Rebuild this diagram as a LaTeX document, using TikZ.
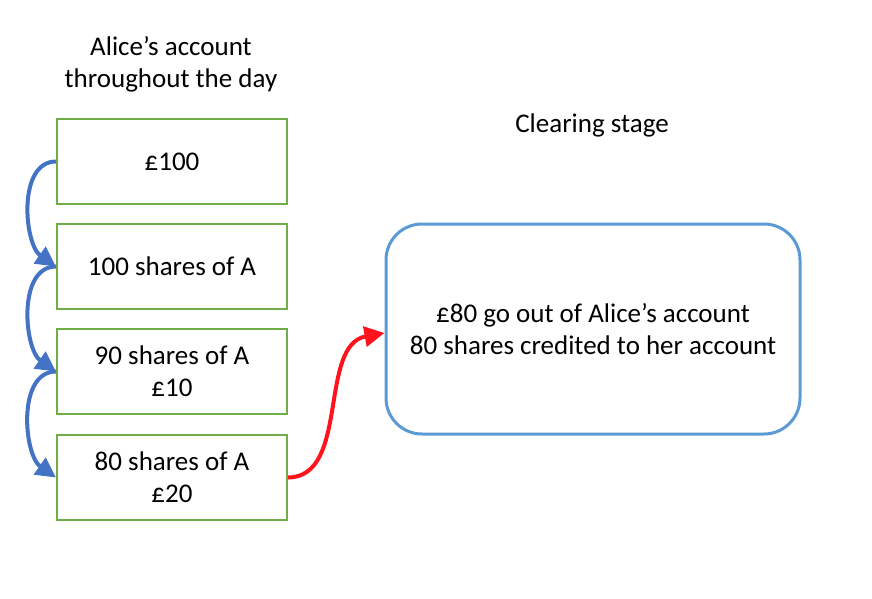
\documentclass[tikz,border=0pt]{standalone}
\usepackage{fontspec}
\setmainfont{Carlito}
\usetikzlibrary{arrows.meta}

\definecolor{acctgreen}{RGB}{112,173,71}
\definecolor{clearblue}{RGB}{91,155,213}
\definecolor{flowblue}{RGB}{68,114,196}
\definecolor{flowred}{RGB}{255,20,30}

\tikzset{
	acct/.style = {draw = acctgreen, line width = 2pt, minimum width = 230pt,
		minimum height = 85pt, inner sep = 0pt, align = center},
	clearbox/.style = {draw = clearblue, line width = 3pt, rounded corners = 36pt,
		minimum width = 414pt, minimum height = 210pt, inner sep = 0pt, align = center},
	label/.style = {align = center, inner sep = 0pt},
	flow/.style = {flowblue, line width = 4pt, -{Triangle[length = 20pt, width = 20pt]}},
	settle/.style = {flowred, line width = 4pt, -{Triangle[length = 20pt, width = 20pt]}}
}

\begin{document}
\begin{tikzpicture}[x = 1pt, y = -1pt, font = \fontsize{27}{32}\selectfont]
		\useasboundingbox (0, 0) rectangle (872, 598);
		\node [label] (title) at (171, 64) {Alice’s account\\throughout the day};
		\node [label] (stage) at (592, 125) {Clearing stage};
		\node [acct] (b1) at (172, 161.5) {£100};
		\node [acct] (b2) at (172, 266.5) {100 shares of A};
		\node [acct] (b3) at (172, 371.5) {90 shares of A\\£10};
		\node [acct] (b4) at (172, 477.5) {80 shares of A\\£20};
		\node [clearbox] (clear) at (593, 329) {£80 go out of Alice’s account\\80 shares credited to her account};
		\draw [flow] (b1.west) to [out = 180, in = 145, looseness = 0.95] (b2.west);
		\draw [flow] (b2.west) to [out = 180, in = 145, looseness = 0.95] (b3.west);
		\draw [flow] (b3.west) to [out = 180, in = 145, looseness = 0.95] (b4.west);
		\draw [settle] (b4.east) .. controls (350, 477) and (318, 345) .. ([yshift = -4pt] clear.west);
	\end{tikzpicture}
\end{document}
